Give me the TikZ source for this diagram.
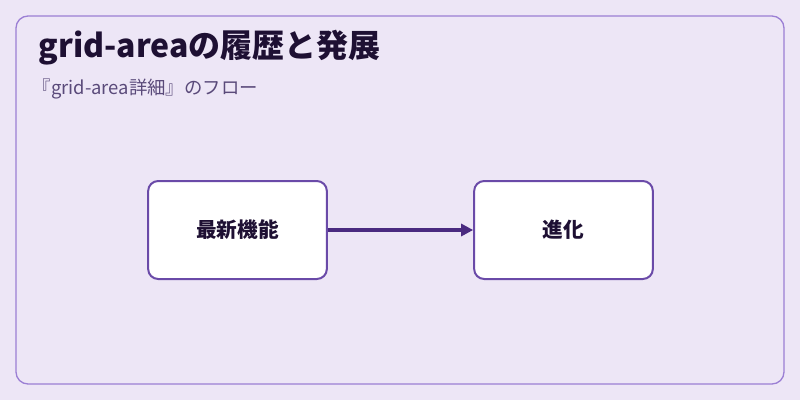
\documentclass[tikz,border=0pt]{standalone}
\usepackage{fontspec}
\setmainfont{Noto Sans CJK JP}
\usetikzlibrary{arrows.meta}
\definecolor{bg}{HTML}{EDE6F6}
\definecolor{frame}{HTML}{9B7FD4}
\definecolor{boxline}{HTML}{6A4AA8}
\definecolor{arr}{HTML}{4A2A80}
\definecolor{ttl}{HTML}{1E1033}
\definecolor{sub}{HTML}{5A4A7A}
\tikzset{
  stepbox/.style={draw=boxline,line width=1.5pt,fill=white,rounded corners=7.5pt,minimum width=134pt,minimum height=73.5pt,font=\bfseries\fontsize{15.5pt}{18pt}\selectfont,text=ttl},
  conn/.style={draw=arr,line width=2.5pt,-{Triangle[length=9pt,width=9pt]}}
}
\begin{document}
\begin{tikzpicture}[x=0.75pt,y=-0.75pt]
\useasboundingbox (0,0) rectangle (800,400);
\fill[bg] (0,0) rectangle (800,400);
\draw[frame,line width=1pt,rounded corners=9pt,fill=bg] (16,16) rectangle (784,384);
\node[anchor=west,text=ttl,font=\bfseries\fontsize{24pt}{28pt}\selectfont] (title) at (34,48) {grid-areaの履歴と発展};
\node[anchor=west,text=sub,font=\fontsize{13.8pt}{16pt}\selectfont] (subt) at (28,89) {『grid-area詳細』のフロー};
\node[stepbox] (a) at (237.5,230) {最新機能};
\node[stepbox] (b) at (563.5,230) {進化};
\draw[conn] (a.east) -- (b.west);
\end{tikzpicture}
\end{document}
